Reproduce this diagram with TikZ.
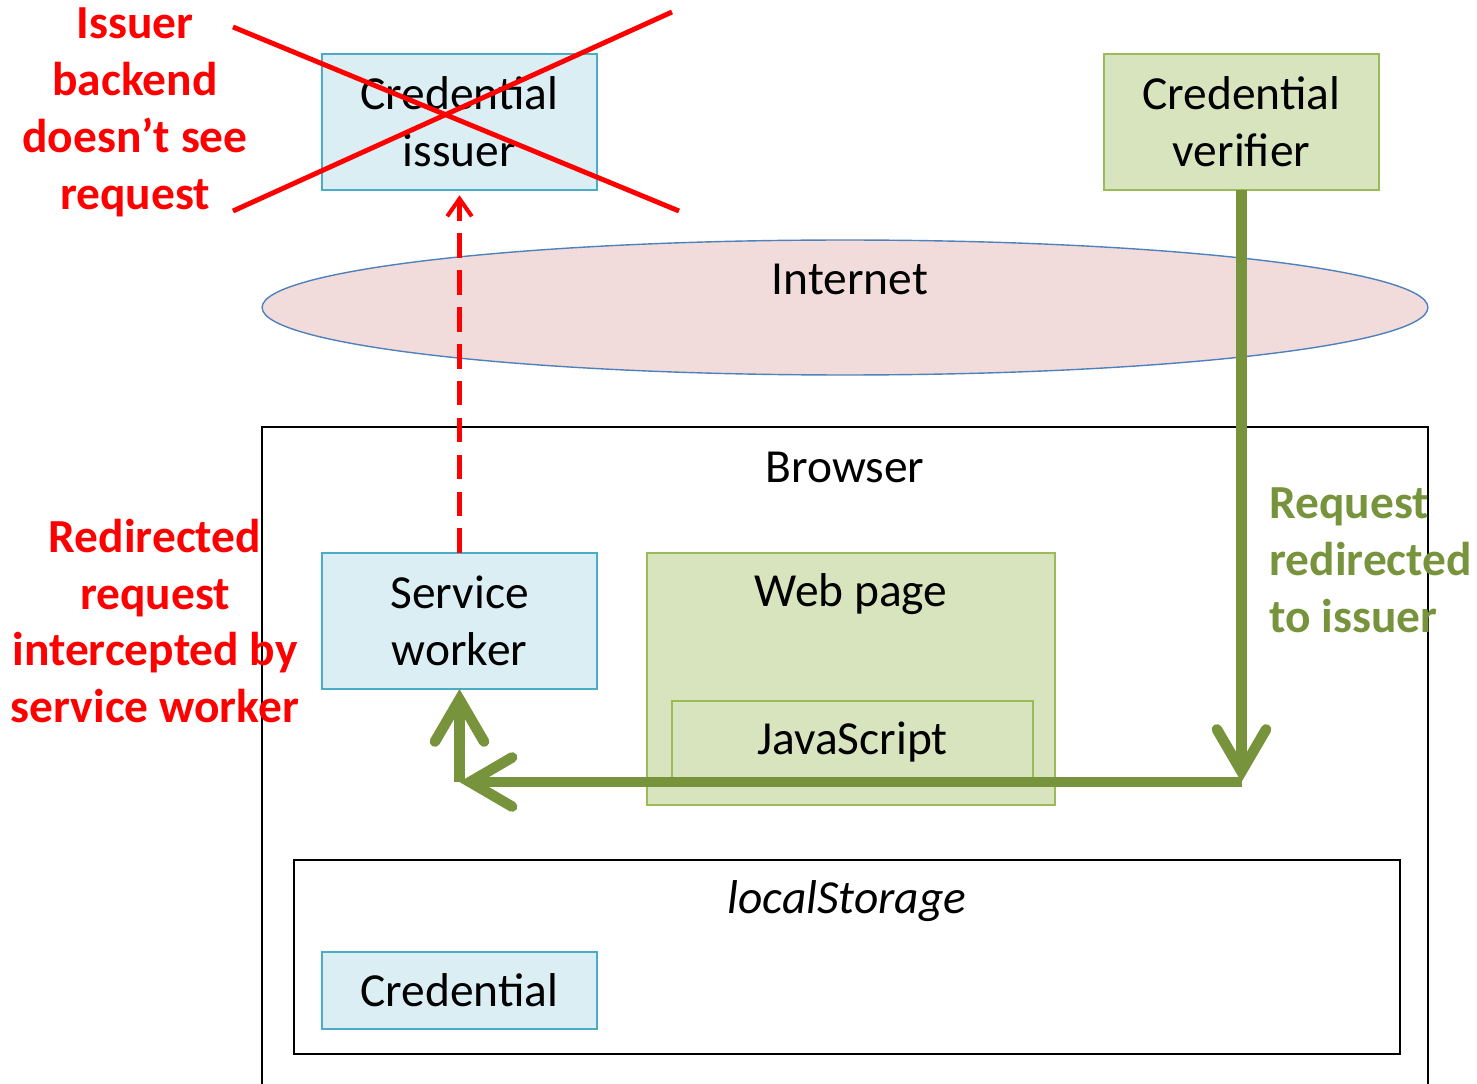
\documentclass[tikz,border=0pt]{standalone}
\usepackage{fontspec}
\setmainfont{Carlito}
\usepackage{tikz}
\usetikzlibrary{positioning, arrows.meta, shapes.geometric}

\definecolor{boxblue}{HTML}{DAEEF3}
\definecolor{lineblue}{HTML}{4BACC6}
\definecolor{boxgreen}{HTML}{D7E4BD}
\definecolor{linegreen}{HTML}{9BBB59}
\definecolor{netpink}{HTML}{F2DCDB}
\definecolor{netline}{HTML}{4F81BD}
\definecolor{flowgreen}{HTML}{77933C}
\newcommand{\diagfont}{\fontsize{27}{32.4}\selectfont}

\begin{document}
\begin{tikzpicture}[
    x=0.02cm, y=-0.02cm,
    font=\diagfont,
    bluebox/.style={rectangle, draw=lineblue, line width=0.8pt, fill=boxblue, inner sep=0pt, outer sep=0pt, align=center},
    greenbox/.style={rectangle, draw=linegreen, line width=0.8pt, fill=boxgreen, inner sep=0pt, outer sep=0pt, align=center},
    frame/.style={rectangle, draw=black, line width=0.8pt, inner sep=0pt, outer sep=0pt},
    title/.style={inner sep=0pt, align=center},
    rednote/.style={text=red, font=\diagfont\bfseries, align=center, inner sep=0pt},
    greennote/.style={text=flowgreen, font=\diagfont\bfseries, align=left, inner sep=0pt},
    redirect/.style={-{Straight Barb[length=24pt, width=28pt, line cap=round]}, line width=6pt, draw=flowgreen},
    leak/.style={-{Straight Barb[length=10pt, width=14pt]}, line width=2.3pt, draw=red, dash pattern=on 14pt off 7pt},
    cross/.style={line width=2.8pt, draw=red}
  ]
    \useasboundingbox (0,0) rectangle (1477,1084);

    % servers and the internet
    \node[bluebox, minimum width=5.5cm, minimum height=2.72cm] (issuer) at (459.5,122) {Credential\\issuer};
    \node[greenbox, minimum width=5.5cm, minimum height=2.72cm] (verifier) at (1241.5,122) {Credential\\verifier};
    \node[ellipse, draw=netline, line width=0.8pt, fill=netpink, minimum width=23.32cm, minimum height=2.7cm, inner sep=0pt] (internet) at (845,307.5) {};
    \node[title] (nettext) at (850,279) {Internet};

    % browser
    \node[rectangle, inner sep=0pt, outer sep=0pt, minimum width=23.32cm, minimum height=13.14cm] (browser) at (845,755.5) {};
    \draw[line width=0.8pt] (browser.south west) |- (browser.north) -| (browser.south east);
    \node[title] (browsertext) at (845,467) {Browser};
    \node[bluebox, minimum width=5.5cm, minimum height=2.72cm] (worker) at (459.5,621) {Service\\worker};
    \node[greenbox, minimum width=8.16cm, minimum height=5.04cm] (webpage) at (851,679) {};
    \node[title] (webtext) at (851,594) {Web page};
    \node[greenbox, minimum width=7.22cm, minimum height=1.62cm] (js) at (852.5,741.5) {JavaScript};
    \node[frame, minimum width=22.12cm, minimum height=3.88cm] (storage) at (847,957) {};
    \node[title, font=\diagfont\itshape] (storagetext) at (847,901) {localStorage};
    \node[bluebox, minimum width=5.5cm, minimum height=1.54cm] (credential) at (459.5,990.5) {Credential};

    % connectors
    \draw[leak] (worker.north) -- ([yshift=-3pt]issuer.south);
    \coordinate (turnright) at (1241.5,782);
    \coordinate (turnleft) at (459.5,782);
    \draw[redirect] (verifier.south) -- (turnright);
    \draw[redirect] (turnright) -- (turnleft);
    \draw[redirect] (turnleft) -- (worker.south);

    % crossed-out issuer
    \coordinate (crossa) at (233,27);
    \coordinate (crossb) at (679,211);
    \coordinate (crossc) at (233,211);
    \coordinate (crossd) at (672,12);
    \draw[cross] (crossa) -- (crossb);
    \draw[cross] (crossc) -- (crossd);

    % notes
    \node[rednote] (blindnote) at (135,112) {Issuer\\backend\\doesn’t see\\request};
    \node[rednote] (catchnote) at (155,621) {Redirected\\request\\intercepted by\\service worker};
    \node[greennote, anchor=west] (flownote) at (1269,560) {Request\\redirected\\to issuer};
  \end{tikzpicture}
\end{document}
